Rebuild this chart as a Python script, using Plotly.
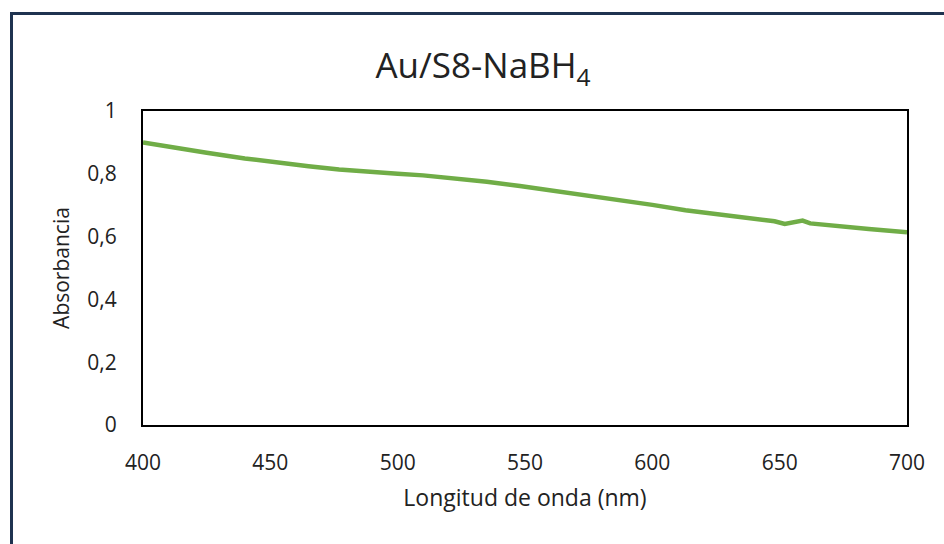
import plotly.graph_objects as go

wavelength = [400, 410, 425, 440, 450, 465, 477, 490, 500, 510, 523, 535, 548, 558, 568, 580, 590, 600,
              613, 625, 640, 648, 652, 656, 659, 662, 672, 685, 700]
absorbance = [0.900, 0.886, 0.867, 0.849, 0.838, 0.824, 0.814, 0.805, 0.800, 0.795, 0.786, 0.775, 0.761, 0.750, 0.738, 0.724, 0.712, 0.701,
              0.684, 0.671, 0.657, 0.649, 0.640, 0.646, 0.651, 0.642, 0.633, 0.624, 0.614]

x_ticks = [400, 450, 500, 550, 600, 650, 700]
y_ticks = [0, 0.2, 0.4, 0.6, 0.8, 1]

fig = go.Figure()
fig.add_trace(go.Scatter(x=wavelength, y=absorbance, mode="lines",
                         line=dict(color="#70ad47", width=4.5), showlegend=False))

L, R, T, B = 143, 37, 111, 119
W, H = 944, 544
pw = W - L - R
ph = H - T - B

def px_x(p):
    return (p - L) / pw

def px_y(p):
    return (H - B - p) / ph

fig.update_layout(
    width=W, height=H,
    margin=dict(l=L, r=R, t=T, b=B),
    paper_bgcolor="white", plot_bgcolor="white",
    separators=",.",
    title=dict(text="Au/S8-NaBH<sub>4</sub>", x=483 / W, xref="container", xanchor="center",
               y=1 - 66 / H, yref="container", yanchor="middle",
               font=dict(family="Open Sans", size=35, color="#222222")),
    xaxis=dict(range=[400, 700], tickvals=x_ticks, showgrid=False, zeroline=False,
               showline=True, linecolor="black", linewidth=2, mirror=True,
               ticks="", ticklabelstandoff=18,
               tickfont=dict(family="Open Sans", size=21, color="#222222"),
               title=dict(text="Longitud de onda (nm)", standoff=15,
                          font=dict(family="Open Sans", size=23, color="#222222"))),
    yaxis=dict(range=[0, 1], tickvals=y_ticks, showgrid=False, zeroline=False,
               showline=True, linecolor="black", linewidth=2, mirror=True,
               ticks="", ticklabelstandoff=20,
               tickfont=dict(family="Open Sans", size=21, color="#222222"),
               title=dict(text="Absorbancia", standoff=12,
                          font=dict(family="Open Sans", size=21, color="#222222"))),
    shapes=[dict(type="rect", xref="paper", yref="paper",
                 x0=px_x(11.5), x1=px_x(980), y0=px_y(13.5), y1=px_y(600),
                 line=dict(color="#1f3350", width=3), layer="below")],
)

fig.write_html("out.html")
